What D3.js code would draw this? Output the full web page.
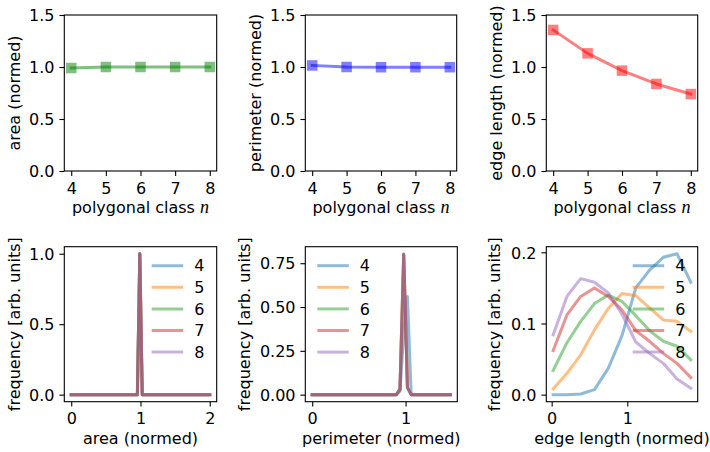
<!DOCTYPE html>
<html>
<head>
<meta charset="utf-8">
<script src="https://cdn.jsdelivr.net/npm/d3@7"></script>
<style>
  html, body { margin: 0; padding: 0; background: #fff; }
  svg { display: block; }
  text { font-family: "DejaVu Sans", sans-serif; fill: #000; }
</style>
</head>
<body>
<svg id="chart" width="710" height="452"></svg>
<script>
// ---------------- DATA ----------------
const polygonClass = [4, 5, 6, 7, 8];
const areaMean   = [0.99, 1.0, 1.0, 1.0, 1.0];
const perimMean  = [1.015, 1.0, 0.998, 0.998, 0.998];
const edgeMean   = [1.356, 1.131, 0.965, 0.837, 0.740];
const topYTicks  = [0, 0.5, 1.0, 1.5];

const seriesNames = ["4", "5", "6", "7", "8"];

// area distribution
const areaX = [0, 0.955, 0.99, 1.025, 2.0];
const areaFreq = [
  [0, 0, 1.0, 0, 0],
  [0, 0, 1.0, 0, 0],
  [0, 0, 1.0, 0, 0],
  [0, 0, 1.0, 0, 0],
  [0, 0, 1.0, 0, 0]
];
const areaXTicks = [0, 1, 2];
const areaYTicks = [0, 0.5, 1.0];

// perimeter distribution
const perimX = [0, 0.90, 0.94, 0.98, 1.02, 1.06, 1.48];
const perimFreq = [
  [0, 0, 0.02, 0.35, 0.56, 0, 0],
  [0, 0, 0.03, 0.80, 0.04, 0, 0],
  [0, 0, 0.03, 0.80, 0.04, 0, 0],
  [0, 0, 0.03, 0.80, 0.04, 0, 0],
  [0, 0, 0.03, 0.804, 0.04, 0, 0]
];
const perimXTicks = [0, 1];
const perimYTicks = [0, 0.25, 0.5, 0.75];

// edge length distribution
const edgeX = [0.02, 0.202, 0.384, 0.566, 0.748, 0.93, 1.112, 1.294, 1.476, 1.658, 1.84];
const edgeFreq = [
  [0, 0, 0.001, 0.007, 0.037, 0.083, 0.150, 0.175, 0.193, 0.198, 0.158],
  [0.008, 0.030, 0.056, 0.091, 0.121, 0.142, 0.139, 0.122, 0.105, 0.103, 0.089],
  [0.034, 0.073, 0.103, 0.128, 0.140, 0.131, 0.111, 0.090, 0.075, 0.068, 0.049],
  [0.062, 0.112, 0.138, 0.150, 0.138, 0.119, 0.090, 0.075, 0.058, 0.044, 0.024],
  [0.084, 0.138, 0.163, 0.158, 0.143, 0.113, 0.074, 0.058, 0.044, 0.022, 0.009]
];
const edgeXTicks = [0, 1];
const edgeYTicks = [0, 0.1, 0.2];

// ---------------- STYLE ----------------
const tab10 = ["#1f77b4", "#ff7f0e", "#2ca02c", "#d62728", "#9467bd"];
const FS = 16;
const TICK = 4.9, PAD = 4.9;

const svg = d3.select("#chart");

function pad5(ext) {
  const r = ext[1] - ext[0];
  return [ext[0] - 0.05 * r, ext[1] + 0.05 * r];
}

function drawAxes(box, x, y, xTicks, yTicks, yFmt, xFmt, xlabel, ylabel, ylabelX) {
  const g = svg.append("g");
  const xa = d3.axisBottom(x).tickValues(xTicks).tickSize(TICK).tickPadding(PAD).tickFormat(xFmt);
  const gx = g.append("g").attr("transform", `translate(0,${box.y1})`).call(xa);
  gx.select(".domain").remove();
  gx.selectAll("line").attr("stroke", "#000").attr("stroke-width", 1.1);
  gx.selectAll("text").attr("font-size", FS).attr("font-family", "DejaVu Sans").attr("fill", "#000")
    .attr("dy", null).attr("y", 22.6);
  const ya = d3.axisLeft(y).tickValues(yTicks).tickSize(TICK).tickPadding(PAD).tickFormat(yFmt);
  const gy = g.append("g").attr("transform", `translate(${box.x0},0)`).call(ya);
  gy.select(".domain").remove();
  gy.selectAll("line").attr("stroke", "#000").attr("stroke-width", 1.1);
  gy.selectAll("text").attr("font-size", FS).attr("font-family", "DejaVu Sans").attr("fill", "#000")
    .attr("dy", "0.36em");
  g.append("rect").attr("x", box.x0).attr("y", box.y0)
    .attr("width", box.x1 - box.x0).attr("height", box.y1 - box.y0)
    .attr("fill", "none").attr("stroke", "#000").attr("stroke-width", 1.1);
  const xl = g.append("text").attr("x", (box.x0 + box.x1) / 2).attr("y", box.y1 + 42)
    .attr("text-anchor", "middle").attr("font-size", FS);
  xlabel(xl);
  g.append("text")
    .attr("transform", `translate(${ylabelX},${(box.y0 + box.y1) / 2}) rotate(-90)`)
    .attr("text-anchor", "middle").attr("font-size", FS).text(ylabel);
}

const fmt1 = d3.format(".1f");
const fmt2 = d3.format(".2f");
const fmt0 = d3.format("d");

function polyLabel(t) {
  t.append("tspan").text("polygonal class ");
  t.append("tspan").attr("font-family", "Liberation Serif").attr("font-style", "italic")
    .attr("font-size", 18).text("n");
}

// ---------------- TOP ROW ----------------
const topBoxes = [
  { x0: 64.3, x1: 216.7, y0: 15, y1: 171 },
  { x0: 305.3, x1: 456.7, y0: 15, y1: 171 },
  { x0: 546.3, x1: 697.7, y0: 15, y1: 171 }
];
const topData = [areaMean, perimMean, edgeMean];
const topColors = ["#008000", "#0000ff", "#ff0000"];
const topYLabels = ["area (normed)", "perimeter (normed)", "edge length (normed)"];
const topYLabX = [19.5, 260.5, 501.5];

topBoxes.forEach((box, i) => {
  const x = d3.scaleLinear().domain(pad5(d3.extent(polygonClass))).range([box.x0, box.x1]);
  const y = d3.scaleLinear().domain([0, 1.5]).range([box.y1, box.y0]);
  drawAxes(box, x, y, polygonClass, topYTicks, fmt1, fmt0, polyLabel, topYLabels[i], topYLabX[i]);
  const pts = polygonClass.map((n, j) => [n, topData[i][j]]);
  svg.append("path").datum(pts)
    .attr("d", d3.line().x(d => x(d[0])).y(d => y(d[1])))
    .attr("fill", "none").attr("stroke", topColors[i]).attr("stroke-opacity", 0.5)
    .attr("stroke-width", 3).attr("stroke-linejoin", "round").attr("stroke-linecap", "square");
  const ms = 10.5;
  svg.append("g").selectAll("rect").data(pts).join("rect")
    .attr("x", d => x(d[0]) - ms / 2).attr("y", d => y(d[1]) - ms / 2)
    .attr("width", ms).attr("height", ms)
    .attr("fill", topColors[i]).attr("fill-opacity", 0.5);
});

// ---------------- BOTTOM ROW ----------------
const botBoxes = [
  { x0: 64.3, x1: 216.7, y0: 246.7, y1: 401.7 },
  { x0: 305.3, x1: 457.3, y0: 246.7, y1: 401.7 },
  { x0: 546.3, x1: 697.7, y0: 246.7, y1: 401.7 }
];
const botX = [areaX, perimX, edgeX];
const botFreq = [areaFreq, perimFreq, edgeFreq];
const botXTicks = [areaXTicks, perimXTicks, edgeXTicks];
const botYTicks = [areaYTicks, perimYTicks, edgeYTicks];
const botYFmt = [fmt1, fmt2, fmt1];
const botXLabels = ["area (normed)", "perimeter (normed)", "edge length (normed)"];
const botYLabX = [19.5, 249.5, 500];
const legendLeft = [false, true, false];

botBoxes.forEach((box, i) => {
  const xs = botX[i];
  const all = botFreq[i].flat();
  const x = d3.scaleLinear().domain(pad5(d3.extent(xs))).range([box.x0, box.x1]);
  const y = d3.scaleLinear().domain(pad5([0, d3.max(all)])).range([box.y1, box.y0]);
  drawAxes(box, x, y, botXTicks[i], botYTicks[i], botYFmt[i], fmt0,
    t => t.text(botXLabels[i]), "frequency [arb. units]", botYLabX[i]);
  botFreq[i].forEach((vals, k) => {
    const pts = xs.map((v, j) => [v, vals[j]]);
    svg.append("path").datum(pts)
      .attr("d", d3.line().x(d => x(d[0])).y(d => y(d[1])))
      .attr("fill", "none").attr("stroke", tab10[k]).attr("stroke-opacity", 0.5)
      .attr("stroke-width", 3).attr("stroke-linejoin", "round").attr("stroke-linecap", "square");
  });
  const lx0 = legendLeft[i] ? box.x0 + 13.5 : box.x1 - 63.5;
  const lg = svg.append("g");
  seriesNames.forEach((name, k) => {
    const cy = box.y0 + 19 + k * 21.6;
    lg.append("line").attr("x1", lx0).attr("x2", lx0 + 28.5).attr("y1", cy).attr("y2", cy)
      .attr("stroke", tab10[k]).attr("stroke-opacity", 0.5).attr("stroke-width", 3)
      .attr("stroke-linecap", "square");
    lg.append("text").attr("x", lx0 + 28.5 + 12.5).attr("y", cy).attr("dy", "0.36em")
      .attr("font-size", FS).text(name);
  });
});
</script>
</body>
</html>
